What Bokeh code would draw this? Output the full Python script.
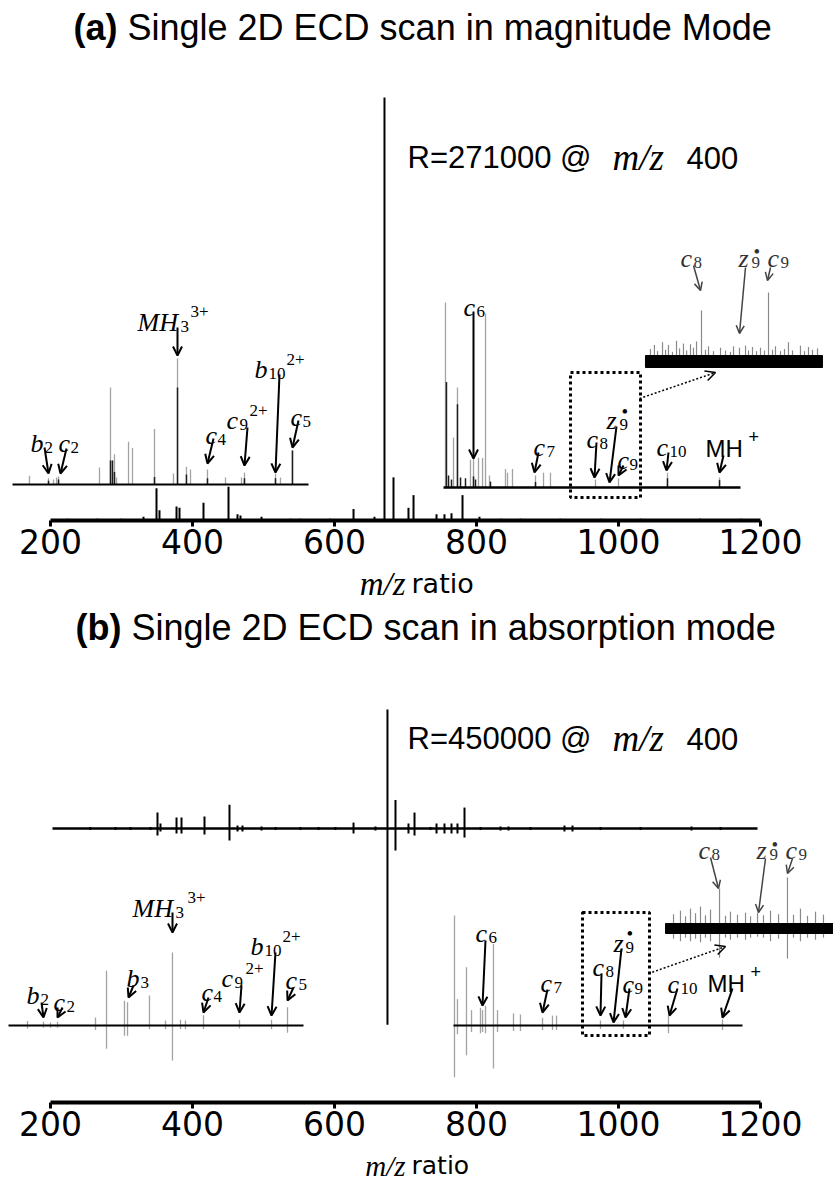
from bokeh.plotting import figure
from bokeh.models import Range1d, FixedTicker, ColumnDataSource, Arrow, OpenHead, Label
from bokeh.layouts import column
from bokeh.embed import file_html
from bokeh.resources import INLINE
from bokeh.core.properties import value

# ---------------------------------------------------------------- data
ticks = [200, 400, 600, 800, 1000, 1200]

# (a) magnitude mode -- full scan (m/z, relative intensity %)
a_main_mz = [224, 266, 299, 331, 349.3, 353.5, 377.5, 381.7, 415.5, 450.7,
             463.4, 467.6, 497.2, 538, 552, 594, 626.8, 656.3, 670.4, 683.1,
             704.2, 711.3, 743.7, 754.9, 764.8, 780.3, 804.2, 834, 862, 918,
             975, 1031, 1115, 1172]
a_main_int = [0.4, 0.4, 0.4, 0.9, 7.6, 2.4, 3.3, 3.0, 4.2, 8.0,
              1.5, 1.2, 0.9, 0.4, 0.4, 0.4, 2.7, 0.9, 100, 10.2,
              3.0, 6.0, 1.5, 1.5, 1.7, 6.0, 0.9, 0.4, 0.4, 0.4,
              0.4, 0.4, 0.4, 0.4]
# (a) low-m/z fragment inset
a_left_mz = [170.4, 197.2, 204.2, 208.5, 211.3, 269.0, 284.5, 287.3, 290.1, 293.0,
             309.9, 315.5, 346.5, 373.2, 378.9, 391.5, 397.2, 421.1, 446.5, 469.0,
             473.2, 516.9, 523.9, 540.8]
a_left_int = [7, 5, 4, 5.5, 6.3, 13.5, 77, 19, 24, 5.5,
              34, 29, 44, 8.7, 100, 14, 12, 12, 5.5, 5.5,
              9.5, 8.7, 5.5, 27]
a_left_dark_mz = [197.2, 211.3, 284.5, 287.3, 290.1, 346.5, 378.9, 391.5, 421.1, 473.2, 516.9, 540.8]
a_left_dark_int = [3, 4, 19, 19, 10, 6, 77, 8, 5, 5, 5, 27]
# (a) high-m/z fragment inset
a_right_mz = [756.3, 767.6, 773.2, 791.5, 795.8, 802.8, 808.5, 812.7, 818.3, 840.8,
              843.7, 850.7, 883.1, 894.4, 904.2, 967.6, 1000.0, 1069.0, 1142.3]
a_right_int = [100, 27, 54, 15, 18, 16, 16, 94, 6.5, 10,
               8, 10, 6.5, 8, 8, 4.3, 4.9, 8, 5.4]
a_right_dark_mz = [757.7, 760.6, 764.8, 773.2, 777.5, 784.5, 795.8, 798.6, 819.7, 883.1, 1069.0, 1142.3]
a_right_dark_int = [57, 6.5, 4.3, 45, 5.4, 5, 6, 4.3, 3.2, 3, 5, 4]
# (a) magnified c8 / z9 / c9 region
a_zoom_mz = [1045.0, 1050.6, 1055.0, 1062.0, 1066.3, 1070.4, 1076.0, 1081.7, 1086.0, 1091.5,
             1096.0, 1101.4, 1105.6, 1109.9, 1116.9, 1122.5, 1126.8, 1133.8, 1143.7, 1150.7,
             1157.7, 1162.0, 1170.4, 1178.9, 1183.1, 1188.7, 1194.4, 1200.0, 1205.6, 1211.3,
             1216.9, 1221.1, 1228.2, 1233.8, 1239.4, 1245.1, 1256.3, 1262.0, 1267.6, 1273.2, 1280.3]
a_zoom_int = [18, 24, 15, 28, 17, 24, 14, 30, 19, 26,
              16, 25, 20, 29, 74, 17, 22, 15, 20, 16,
              14, 22, 20, 23, 16, 21, 15, 20, 16, 100,
              17, 22, 15, 18, 28, 16, 23, 15, 21, 17, 19]
a_zoom_band_mz = [1038.0, 1287.3]

# (b) absorption mode -- full scan (positive / negative lobes, %)
b_top_mz = [256, 291.5, 312.7, 340.8, 350.7, 354.9, 377.5, 384.5, 416.9, 452.1,
            463.4, 470.4, 497.2, 516.9, 552.1, 577.5, 601.4, 626.8, 657.7, 674.6,
            685.9, 704.2, 712.7, 735.2, 743.7, 754.9, 764.8, 773.2, 783.1, 805.6,
            833.8, 845.1, 876.1, 923.9, 935.2, 974.6, 1031, 1102.8, 1143.7]
b_top_up = [1.3, 1.3, 1.3, 1.3, 13.4, 4.2, 9.2, 9.2, 10, 20,
            2.5, 2.5, 1.7, 1.3, 1.3, 1.3, 1.3, 5, 1.7, 100,
            24, 4.2, 13.4, 1.3, 4.2, 4.2, 4.2, 4.2, 17.6, 1.3,
            1.7, 1.7, 1.3, 2.5, 2.5, 1.3, 1.3, 1.7, 1.3]
b_top_down = [1.3, 1.3, 1.3, 1.3, 5.9, 2.5, 4.2, 4.2, 5, 10,
              2.5, 2.5, 1.7, 1.3, 1.3, 1.3, 1.3, 4.2, 1.7, 165,
              18.5, 4.2, 5.9, 1.3, 4.2, 4.2, 4.2, 4.2, 7.6, 1.3,
              1.7, 1.7, 1.3, 2.5, 2.5, 1.3, 1.3, 1.7, 1.3]
b_left_mz = [167.6, 190.1, 200.0, 209.9, 263.4, 278.9, 304.2, 308.5, 339.4, 362.0,
             371.8, 383.1, 390.1, 415.5, 466.2, 511.3, 533.8]
b_left_up = [6, 5, 4, 5, 11, 75, 34, 32, 41, 7, 100, 8, 7, 14, 8, 8, 25]
b_left_down = [4, 3, 3, 3, 6, 32, 14, 14, 5, 5, 48, 5, 5, 5, 4, 5, 10]
b_right_mz = [769.0, 773.2, 785.9, 793.0, 805.6, 808.5, 812.7, 823.9, 829.6, 852.1,
              861.9, 893.0, 907.0, 912.7, 974.6, 1007.0, 1070.4, 1146.5]
b_right_up = [100, 24, 53, 14, 16, 14, 18, 74, 14, 11, 10, 7, 9, 9, 4.5, 4.5, 9, 5.5]
b_right_down = [47, 8, 27, 6, 7, 6, 7, 39, 6, 5, 5, 4, 4, 4, 3, 3, 7, 4]
b_zoom_mz = [1077.5, 1087.3, 1094.4, 1101.4, 1108.5, 1115.5, 1122.5, 1129.6, 1142.3, 1150.7,
             1157.7, 1167.6, 1178.9, 1186.0, 1195.8, 1204.2, 1214.1, 1225.4, 1238.0, 1246.5,
             1256.3, 1266.2, 1277.5, 1288.7]
b_zoom_up = [28, 35, 24, 39, 30, 43, 26, 37, 78, 25,
             33, 27, 31, 24, 31, 26, 35, 28, 100, 27,
             39, 25, 33, 27]
b_zoom_down = [20, 25, 18, 25, 20, 27, 18, 25, 57, 18,
               22, 18, 22, 18, 16, 18, 25, 20, 59, 18,
               25, 18, 22, 18]
b_zoom_band_mz = [1066.2, 1302.8]

# ---------------------------------------------------------------- layout
FIG_W = 833
AX_X200, AX_X1200 = 50.0, 760.0
SANS, SERIF, TICKF = "Liberation Sans", "Liberation Serif", "DejaVu Sans"
GRAY, DARK = "#a3a3a3", "#1e1e1e"


def px2mz(px):
    return 200.0 + (px - AX_X200) * 1000.0 / (AX_X1200 - AX_X200)


XR = Range1d(px2mz(0), px2mz(FIG_W))


def make_fig(top, axis_y, height):
    p = figure(width=FIG_W, height=height, x_range=XR,
               y_range=Range1d(axis_y, top),
               output_backend="svg", toolbar_location=None,
               y_axis_location=None, x_axis_location="below",
               min_border_left=0, min_border_right=0, min_border_top=0,
               min_border_bottom=height - (axis_y - top))
    p.grid.visible = False
    p.outline_line_color = None
    ax = p.xaxis[0]
    ax.ticker = FixedTicker(ticks=ticks)
    ax.bounds = (200, 1200)
    ax.axis_line_width = 4
    ax.axis_line_color = "black"
    ax.major_tick_line_width = 3
    ax.major_tick_out = 6
    ax.major_tick_in = 0
    ax.minor_tick_out = 0
    ax.minor_tick_in = 0
    ax.major_label_text_font = TICKF
    ax.major_label_text_font_size = "33px"
    ax.major_label_text_color = "black"
    ax.major_label_standoff = 2
    return p


def make_strip(top, height):
    p = figure(width=FIG_W, height=height, x_range=XR, y_range=Range1d(top + height, top),
               output_backend="svg", toolbar_location=None,
               x_axis_location=None, y_axis_location=None,
               min_border_left=0, min_border_right=0, min_border_top=0, min_border_bottom=0)
    p.grid.visible = False
    p.outline_line_color = None
    return p


def sticks(p, mzs, ints, base, scale, color, lw, sign=-1):
    y1 = [base + sign * scale * v / 100.0 for v in ints]
    p.segment(x0=mzs, y0=[base] * len(mzs), x1=mzs, y1=y1, line_color=color, line_width=lw)


def baseline(p, x0px, x1px, y, lw=2):
    p.segment(x0=[px2mz(x0px)], y0=[y], x1=[px2mz(x1px)], y1=[y], line_color="black", line_width=lw)


def texts(p, items, font, size, style="normal", color="black", align="left", base="alphabetic"):
    if not items:
        return
    src = ColumnDataSource(dict(x=[px2mz(i[0]) for i in items], y=[i[1] for i in items],
                                t=[i[2] for i in items]))
    p.text(x="x", y="y", text="t", source=src, text_font=value(font), text_font_size=size,
           text_font_style=style, text_color=color, text_align=align, text_baseline=base)


def ions(p, items, color="black"):
    base, sub, sup, dot = [], [], [], []
    for b, bx, by, s, sx, u, ux, uy in items:
        base.append((bx - 1, by, b))
        if s:
            sub.append((sx + 1, by + 4, s))
        if u == "•":
            dot.append((ux + 1, uy, u))
        elif u:
            sup.append((ux + 1, uy, u))
    texts(p, base, SERIF, "26px", "italic", color)
    texts(p, sub, SERIF, "17px", "normal", color)
    texts(p, sup, SERIF, "17px", "normal", color)
    texts(p, dot, SERIF, "19px", "normal", color)


def arrows(p, segs, color="black", lw=2, head=9, dash="solid"):
    src = ColumnDataSource(dict(x0=[px2mz(s[0]) for s in segs], y0=[s[1] for s in segs],
                                x1=[px2mz(s[2]) for s in segs], y1=[s[3] for s in segs]))
    p.add_layout(Arrow(end=OpenHead(size=head, line_width=lw, line_color=color),
                       x_start="x0", y_start="y0", x_end="x1", y_end="y1", source=src,
                       line_color=color, line_width=lw, line_dash=dash))


def lab(p, xpx, y, text, font, size, style="normal", align="left"):
    p.add_layout(Label(x=px2mz(xpx), y=y, text=text, text_font=font, text_font_size=size,
                       text_font_style=style, text_align=align, text_baseline="middle",
                       text_color="black"))


def title(p, tag, rest, x0, y, tagw):
    lab(p, x0, y, tag, SANS, "36px", "bold")
    lab(p, x0 + tagw, y, rest, SANS, "36px")


def resolution(p, y, rtext):
    lab(p, 407, y, rtext, SANS, "31px")
    lab(p, 612, y, "m/z", SERIF, "37px", "italic")
    lab(p, 686, y, "400", SANS, "31px")


def xlabel(p, y, s1, s2):
    texts(p, [(405, y, "m/z")], SERIF, s1, "italic", align="right", base="middle")
    texts(p, [(411, y, "ratio")], TICKF, s2, base="middle")


# ================================================================ panel (a)
pa = make_fig(0, 520, 566)
title(pa, "(a)", "Single 2D ECD scan in magnitude Mode", 73, 27, 54)
resolution(pa, 157, "R=271000 @")

# full spectrum rising from the axis
sticks(pa, a_main_mz, a_main_int, 520, 423, "black", 2)
# left inset
sticks(pa, a_left_mz, a_left_int, 484, 126, GRAY, 1.3)
sticks(pa, a_left_dark_mz, a_left_dark_int, 484, 126, DARK, 1.5)
baseline(pa, 12, 308, 484)
# right inset
sticks(pa, a_right_mz, a_right_int, 487, 185, GRAY, 1.3)
sticks(pa, a_right_dark_mz, a_right_dark_int, 487, 185, DARK, 1.5)
baseline(pa, 443, 740, 487, 2.5)
# magnified region
sticks(pa, a_zoom_mz, a_zoom_int, 361, 69, "#8a8a8a", 1.2)
pa.quad(left=[a_zoom_band_mz[0]], right=[a_zoom_band_mz[1]], top=[355], bottom=[367],
        fill_color="black", line_color="black", line_width=1)
pa.quad(left=[px2mz(570)], right=[px2mz(640)], top=[372], bottom=[497], fill_alpha=0,
        line_color="black", line_width=3, line_dash="3 3")
arrows(pa, [(639, 398, 715, 372)], lw=1.5, head=10, dash="2 2")

ions(pa, [
    ("b", 31, 443, "2", 43, "", 0, 0),
    ("c", 59, 443, "2", 69, "", 0, 0),
    ("MH", 138, 322, "3", 179, "3+", 189, 311),
    ("c", 206, 435, "4", 216, "", 0, 0),
    ("c", 227, 420, "9", 238, "2+", 248, 410),
    ("b", 255, 369, "10", 267, "2+", 285, 359),
    ("c", 291, 417, "5", 301, "", 0, 0),
    ("c", 464, 307, "6", 475, "", 0, 0),
    ("c", 534, 447, "7", 545, "", 0, 0),
    ("c", 587, 439, "8", 598, "", 0, 0),
    ("z", 607, 420, "9", 618, "•", 620, 411),
    ("c", 618, 460, "9", 628, "", 0, 0),
    ("c", 657, 447, "10", 668, "", 0, 0),
])
ions(pa, [
    ("c", 681, 258, "8", 692, "", 0, 0),
    ("z", 739, 258, "9", 750, "•", 752, 251),
    ("c", 768, 258, "9", 779, "", 0, 0),
], color="#333333")
texts(pa, [(705, 448, "MH")], SANS, "24px")
texts(pa, [(748, 436, "+")], SANS, "18px")
arrows(pa, [(44, 447, 48, 473), (66, 448, 60, 473), (177, 327, 177, 355), (213, 438, 207, 463),
            (247, 427, 244, 465), (279, 374, 275, 472), (298, 420, 292, 447), (473, 311, 473, 458),
            (538, 452, 534, 472), (596, 442, 594, 477), (616, 426, 609, 482), (623, 465, 618, 475),
            (668, 452, 666, 470), (723, 455, 719, 472)])
arrows(pa, [(693, 265, 700, 290), (745, 267, 739, 333), (770, 267, 767, 280)],
       color="#444444", lw=1.5, head=8)

sa = make_strip(566, 38)
xlabel(sa, 583, "33px", "27px")

# ================================================================ panel (b)
pb = make_fig(604, 1102, 544)
title(pb, "(b)", "Single 2D ECD scan in absorption mode", 75, 627, 56)
resolution(pb, 738, "R=450000 @")

# full absorption-mode spectrum (positive and negative lobes)
sticks(pb, b_top_mz, b_top_up, 828, 119, "black", 2)
sticks(pb, b_top_mz, b_top_down, 828, 119, "black", 2, sign=1)
baseline(pb, 52, 757, 828, 2.5)
# left inset
sticks(pb, b_left_mz, b_left_up, 1025, 73, GRAY, 1.3)
sticks(pb, b_left_mz, b_left_down, 1025, 73, GRAY, 1.3, sign=1)
baseline(pb, 8, 303, 1025)
# right inset
sticks(pb, b_right_mz, b_right_up, 1025, 110, GRAY, 1.3)
sticks(pb, b_right_mz, b_right_down, 1025, 110, GRAY, 1.3, sign=1)
baseline(pb, 453, 742, 1025)
# magnified region
sticks(pb, b_zoom_mz, b_zoom_up, 928, 51, "#8a8a8a", 1.2)
sticks(pb, b_zoom_mz, b_zoom_down, 928, 51, "#8a8a8a", 1.2, sign=1)
pb.quad(left=[b_zoom_band_mz[0]], right=[b_zoom_band_mz[1]], top=[923], bottom=[933],
        fill_color="black", line_color="black", line_width=1)
pb.quad(left=[px2mz(582)], right=[px2mz(649)], top=[912], bottom=[1035], fill_alpha=0,
        line_color="black", line_width=3, line_dash="3 3")
arrows(pb, [(648, 973, 725, 946)], lw=1.5, head=10, dash="2 2")

ions(pb, [
    ("b", 27, 995, "2", 39, "", 0, 0),
    ("c", 54, 1002, "2", 65, "", 0, 0),
    ("b", 127, 978, "3", 139, "", 0, 0),
    ("MH", 133, 908, "3", 174, "3+", 186, 897),
    ("c", 202, 992, "4", 212, "", 0, 0),
    ("c", 222, 978, "9", 233, "2+", 244, 968),
    ("b", 251, 946, "10", 263, "2+", 281, 936),
    ("c", 286, 980, "5", 297, "", 0, 0),
    ("c", 476, 933, "6", 487, "", 0, 0),
    ("c", 541, 983, "7", 552, "", 0, 0),
    ("c", 593, 967, "8", 604, "", 0, 0),
    ("z", 614, 943, "9", 624, "•", 625, 933),
    ("c", 623, 984, "9", 633, "", 0, 0),
    ("c", 668, 984, "10", 679, "", 0, 0),
])
ions(pb, [
    ("c", 699, 850, "8", 710, "", 0, 0),
    ("z", 757, 850, "9", 768, "•", 770, 844),
    ("c", 786, 850, "9", 797, "", 0, 0),
], color="#333333")
texts(pb, [(707, 983, "MH")], SANS, "24px")
texts(pb, [(750, 971, "+")], SANS, "18px")
arrows(pb, [(41, 1002, 43, 1017), (62, 1007, 57, 1017), (133, 985, 128, 997), (172, 912, 172, 932),
            (208, 997, 203, 1012), (241, 985, 239, 1012), (275, 952, 271, 1015), (293, 987, 287, 1000),
            (485, 940, 482, 1005), (547, 989, 542, 1012), (601, 973, 600, 1015), (621, 948, 613, 1022),
            (629, 988, 625, 1017), (677, 988, 669, 1015), (732, 988, 722, 1017)])
arrows(pb, [(710, 857, 718, 888), (765, 858, 758, 912), (792, 858, 787, 873)],
       color="#444444", lw=1.5, head=8)

sb = make_strip(1148, 34)
xlabel(sb, 1165, "29px", "25px")

layout = column(pa, sa, pb, sb, spacing=0)
open("out.html", "w").write(file_html(layout, INLINE))
